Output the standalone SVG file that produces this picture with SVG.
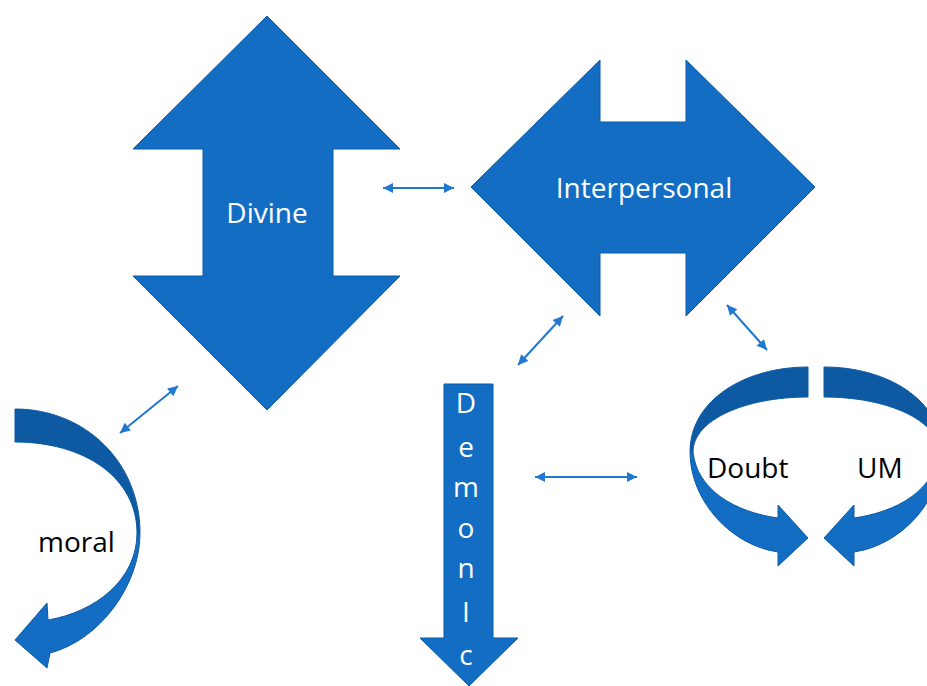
<svg xmlns="http://www.w3.org/2000/svg" width="927" height="686" viewBox="0 0 927 686">
<style>
.shape{fill:#136dc3;stroke:#0c5aa6;stroke-width:1;stroke-linejoin:miter}
.dark{fill:#0d5aa2;stroke:#0c5aa6;stroke-width:1}
.wt{font-family:"Open Sans","Noto Sans",sans-serif;font-size:28px;fill:#ffffff;text-anchor:middle}
.bt{font-family:"Open Sans","Noto Sans",sans-serif;font-size:28px;fill:#000000}
.conn{stroke:#2078d0;stroke-width:2;fill:none;marker-start:url(#ah);marker-end:url(#ah)}
</style>
<defs>
<marker id="ah" viewBox="0 0 10 10" refX="10" refY="5" markerUnits="userSpaceOnUse" markerWidth="12" markerHeight="10" orient="auto-start-reverse">
<path d="M0,0 L10,5 L0,10 Z" fill="#2078d0"/>
</marker>
</defs>
<rect width="927" height="686" fill="#ffffff"/>
<g id="divine">
<path class="shape" d="M267,16 L400,149 L333,149 L333,276 L400,276 L267,410 L133,276 L203,276 L203,149 L133,149 Z"/>
<text class="wt" x="267" y="223">Divine</text>
</g>
<g id="interpersonal">
<path class="shape" d="M471,187 L600,60 L600,122 L686,122 L686,60 L815,187 L686,316 L686,253 L600,253 L600,316 Z"/>
<text class="wt" x="644" y="198">Interpersonal</text>
</g>
<g id="demonic">
<path class="shape" d="M444,384 L493,384 L493,638 L518,638 L469,686 L420,638 L444,638 Z"/>
<text class="wt" x="466" y="413">D</text>
<text class="wt" x="466" y="457">e</text>
<text class="wt" x="466" y="497">m</text>
<text class="wt" x="466" y="538">o</text>
<text class="wt" x="466" y="578">n</text>
<text class="wt" x="466" y="622">I</text>
<text class="wt" x="466" y="665">c</text>
</g>
<g id="moral">
<path class="dark" d="M15,409 C85,409 140,462 140,533 L137,533 C137,478 85,442 15,442 Z"/>
<path class="shape" d="M140,533 C140,585 100,640 50,653 L47,668 L15,640 L47,603 L48,620 C95,612 137,580 137,533 Z"/>
<text class="bt" x="38" y="552">moral</text>
</g>
<g id="doubt">
<path class="dark" d="M808,367 C745,367 690,400 690,452 L693,452 C693,420 745,397 808,397 Z"/>
<path class="shape" d="M690,452 C690,500 730,545 778,552 L778,566 L808,538 L778,505 L778,518 C735,512 697,490 693,452 Z"/>
<text class="bt" x="707" y="478">Doubt</text>
</g>
<g id="um">
<g transform="translate(1632,0) scale(-1,1)">
<path class="dark" d="M808,367 C745,367 690,400 690,452 L693,452 C693,420 745,397 808,397 Z"/>
<path class="shape" d="M690,452 C690,500 730,545 778,552 L778,566 L808,538 L778,505 L778,518 C735,512 697,490 693,452 Z"/>
</g>
<text class="bt" x="857" y="478">UM</text>
</g>
<g id="connectors">
<line class="conn" x1="383" y1="188" x2="454" y2="188"/>
<line class="conn" x1="518" y1="365" x2="563" y2="316"/>
<line class="conn" x1="120" y1="433" x2="178" y2="386"/>
<line class="conn" x1="727" y1="305" x2="767" y2="350"/>
<line class="conn" x1="535" y1="477" x2="637" y2="477"/>
</g>
</svg>
